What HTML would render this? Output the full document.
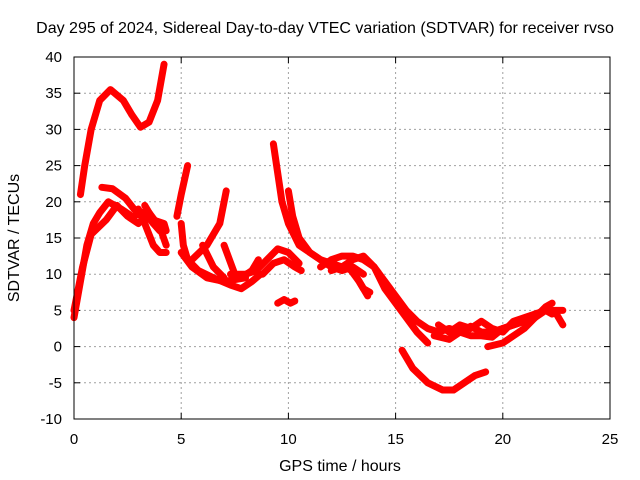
<!DOCTYPE html>
<html><head><meta charset="utf-8"><style>
body{margin:0;background:#fff}
svg{display:block;font-family:"Liberation Sans",sans-serif}
</style></head><body>
<svg id="chart" width="640" height="480" viewBox="0 0 640 480">
<text x="325" y="33" text-anchor="middle" font-size="16">Day 295 of 2024, Sidereal Day-to-day VTEC variation (SDTVAR) for receiver rvso</text>
<text x="340" y="471" text-anchor="middle" font-size="16">GPS time / hours</text>
<text transform="translate(19,238) rotate(-90)" text-anchor="middle" font-size="16">SDTVAR / TECUs</text>
<g id="grid"></g>
<g id="ticks"></g>
<g id="series"></g>
<rect x="74" y="57" width="536" height="362" fill="none" stroke="#000" stroke-width="1"/>
</svg>
<script>
const xTicks=[0,5,10,15,20,25];
const yTicks=[-10,-5,0,5,10,15,20,25,30,35,40];
const trackA=[[0.3,21],[0.5,25],[0.8,30],[1.2,34],[1.7,35.5],[2.3,34],[2.7,32],[3.1,30.3],[3.5,31],[3.9,34],[4.2,39]];
const trackB=[[0,4],[0.3,9],[0.6,14],[0.9,17],[1.2,18.5],[1.6,20],[2.2,19],[2.7,18],[3.3,18.5],[3.7,17],[4.0,16]];
const trackC=[[1.3,22],[1.8,21.8],[2.4,20.5],[2.8,19],[3.2,18.5]];
const trackD=[[0,5],[0.4,11],[0.8,15.5],[1.5,17.5],[2.0,19.5],[2.5,18],[3.0,17],[3.5,18.5],[4.0,16.5],[4.3,14]];
const trackE=[[3.0,19],[3.3,17],[3.7,14],[4.0,13],[4.3,13]];
const trackF=[[3.3,19.5],[3.7,17.5],[4.2,17],[4.3,16]];
const trackG=[[4.8,18],[5.0,21],[5.3,25]];
const trackH=[[5.0,17],[5.1,14],[5.3,12],[5.8,10.5],[6.5,9.5],[7.3,8.5],[7.8,8],[8.3,9],[8.7,10]];
const trackI=[[5.0,13],[5.5,11],[6.2,9.5],[7,9],[8,9.5]];
const trackJ=[[5.5,12],[6.2,14],[6.8,17],[7.1,21.5]];
const trackK=[[6.0,14],[6.5,11],[7.0,9.5]];
const trackL=[[7.0,14],[7.5,10],[7.8,9.5],[8.3,10.5],[8.6,12]];
const trackN=[[7.3,10],[8,10],[8.5,10.5],[9.0,12],[9.5,13.5],[10.0,13],[10.5,11.5]];
const trackO=[[8.8,10],[9.3,11.5],[9.8,12],[10.3,11],[10.6,10.5]];
const trackP=[[9.3,28],[9.5,24],[9.7,20],[10,17],[10.5,14],[11,13],[11.5,12],[12.0,11.5],[12.5,11],[13,12],[13.5,12.5],[14,11],[14.5,9],[15,7],[15.5,5],[16,3.5],[16.5,2.5],[17,2],[17.5,2.5],[18,2],[18.5,2.8],[19,2],[19.5,2],[20,2.5],[20.5,3],[21,3.5],[21.5,4.5],[22,5],[22.5,5],[22.8,5]];
const trackQ=[[10,21.5],[10.2,18],[10.5,15],[11,13],[11.5,12],[12,11],[12.5,10.5],[13,11],[13.5,10]];
const trackR=[[11.5,11],[12,12],[12.5,12.5],[13,12.5],[13.5,12],[14,11],[14.5,8],[15,6],[15.5,4],[16,2],[16.5,0.5]];
const trackS=[[12,10.5],[12.5,11],[13,10.5],[13.5,8],[13.8,7.5]];
const trackT=[[12.8,11],[13.3,9],[13.7,7]];
const trackU=[[9.5,6],[9.8,6.5],[10.1,6],[10.3,6.3]];
const trackV=[[15.3,-0.5],[15.8,-3],[16.5,-5],[17.2,-6],[17.7,-6],[18.2,-5],[18.7,-4],[19.2,-3.5]];
const trackW=[[16.8,1.5],[17.5,1],[18,2],[18.5,1.5],[19,1.5],[19.5,1.3],[20,2.5],[20.5,3],[21,3.5],[21.5,4],[22,5],[22.5,4.5],[22.8,3]];
const trackX=[[19.3,0],[20,0.5],[20.5,1.5],[21,2.5],[21.5,4],[22,5.5],[22.3,6]];
const trackY=[[17,3],[17.5,2],[18,3],[18.5,2.5],[19,3.5],[19.5,2.5],[20,2],[20.5,3.5],[21,4],[22,5],[22.3,4.5]];
const tracks=[trackA,trackB,trackC,trackD,trackE,trackF,trackG,trackH,trackI,trackJ,trackK,trackL,trackN,trackO,trackP,trackQ,trackR,trackS,trackT,trackU,trackV,trackW,trackX,trackY];

const X0=74,X1=610,Y0=419,Y1=57;
const xs=v=>X0+(v-0)/(25-0)*(X1-X0);
const ys=v=>Y0-(v+10)/(40+10)*(Y0-Y1);
const NS="http://www.w3.org/2000/svg";
const grid=document.getElementById('grid'),ticks=document.getElementById('ticks'),ser=document.getElementById('series');
function mk(tag,attrs,parent){const e=document.createElementNS(NS,tag);for(const k in attrs)e.setAttribute(k,attrs[k]);parent.appendChild(e);return e;}
xTicks.forEach(t=>{
  const x=xs(t);
  if(t>0&&t<25){const g=mk('line',{x1:x,x2:x,y1:Y1,y2:Y0,stroke:'#a0a0a0','stroke-dasharray':'2,3'},grid);
  
  }
  mk('line',{x1:x,x2:x,y1:Y0,y2:Y0-6,stroke:'#000'},ticks);
  mk('line',{x1:x,x2:x,y1:Y1,y2:Y1+6,stroke:'#000'},ticks);
  const l=mk('text',{x:x,y:Y0+25,'text-anchor':'middle','font-size':15},ticks);l.textContent=t;
  
  
});
yTicks.forEach(t=>{
  const y=ys(t);
  if(t>-10&&t<40){const g=mk('line',{x1:X0,x2:X1,y1:y,y2:y,stroke:'#a0a0a0','stroke-dasharray':'2,3'},grid);
  
  }
  mk('line',{x1:X0,x2:X0+6,y1:y,y2:y,stroke:'#000'},ticks);
  mk('line',{x1:X1,x2:X1-6,y1:y,y2:y,stroke:'#000'},ticks);
  const l=mk('text',{x:X0-12,y:y+5,'text-anchor':'end','font-size':15},ticks);l.textContent=t;
  
  
});
tracks.forEach(tr=>{
  const p=mk('polyline',{points:tr.map(d=>xs(d[0])+','+ys(d[1])).join(' '),fill:'none',stroke:'#ff0000','stroke-width':7,'stroke-linejoin':'round','stroke-linecap':'round'},ser);
  
  
});
</script>
</body></html>
